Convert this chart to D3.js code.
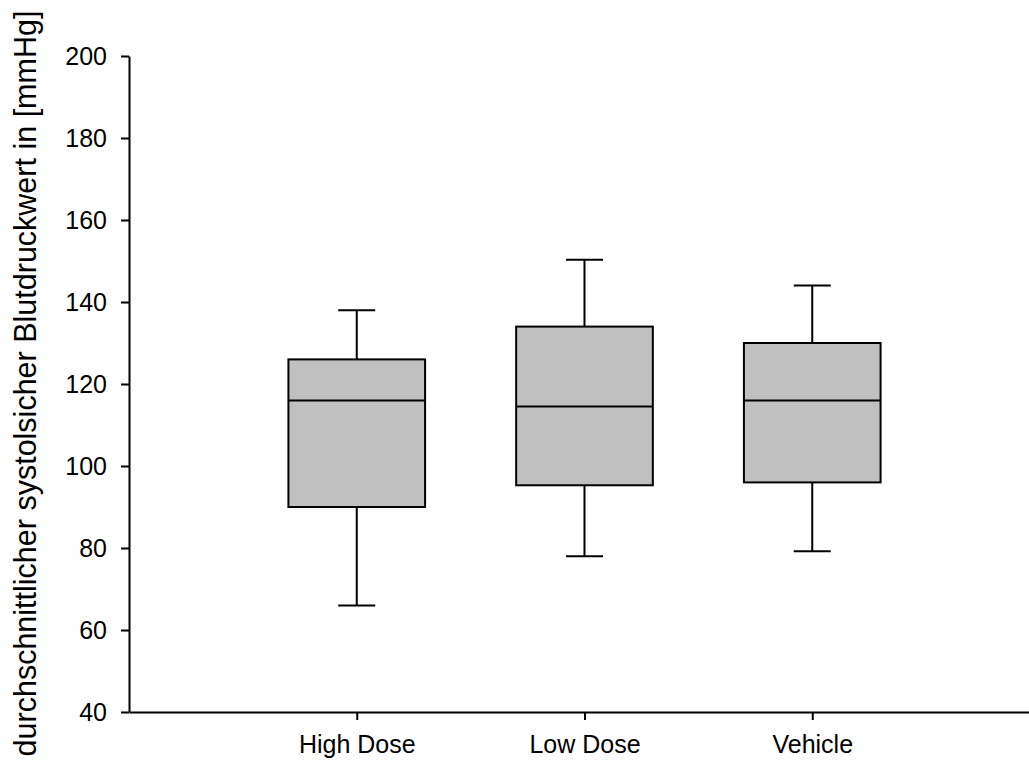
<!DOCTYPE html>
<html>
<head>
<meta charset="utf-8">
<script src="https://cdn.jsdelivr.net/npm/d3@7"></script>
<style>
  body { margin: 0; background: #fff; }
  svg text { font-family: "Liberation Sans", Arial, sans-serif; fill: #000; }
</style>
</head>
<body>
<svg id="chart" width="1029" height="764"></svg>
<script>
var groups = ["High Dose", "Low Dose", "Vehicle"];
var whiskerLow = [66, 78, 79.2];
var q1 = [90, 95.3, 96];
var median = [116, 114.5, 116];
var q3 = [126, 134, 130];
var whiskerHigh = [138, 150.3, 144];
var yTicks = [40, 60, 80, 100, 120, 140, 160, 180, 200];

var svg = d3.select("#chart");
var mLeft = 129, mRight = 1040, mTop = 56, mBottom = 712;

var x = d3.scalePoint().domain(groups).range([mLeft, mRight]).padding(1);
var y = d3.scaleLinear().domain([40, 200]).range([mBottom, mTop]);

var step = x.step();
var boxW = step * 0.6, capW = 37;

var data = groups.map(function(g, i) {
  return { g: g, lo: whiskerLow[i], q1: q1[i], med: median[i], q3: q3[i], hi: whiskerHigh[i] };
});

var box = svg.append("g").selectAll("g").data(data).enter().append("g")
  .attr("stroke", "#000").attr("stroke-width", 2);

// whiskers
box.append("line")
  .attr("x1", function(d) { return x(d.g); }).attr("x2", function(d) { return x(d.g); })
  .attr("y1", function(d) { return y(d.hi); }).attr("y2", function(d) { return y(d.q3); });
box.append("line")
  .attr("x1", function(d) { return x(d.g); }).attr("x2", function(d) { return x(d.g); })
  .attr("y1", function(d) { return y(d.q1); }).attr("y2", function(d) { return y(d.lo); });
box.append("line")
  .attr("x1", function(d) { return x(d.g) - capW / 2; }).attr("x2", function(d) { return x(d.g) + capW / 2; })
  .attr("y1", function(d) { return y(d.hi); }).attr("y2", function(d) { return y(d.hi); });
box.append("line")
  .attr("x1", function(d) { return x(d.g) - capW / 2; }).attr("x2", function(d) { return x(d.g) + capW / 2; })
  .attr("y1", function(d) { return y(d.lo); }).attr("y2", function(d) { return y(d.lo); });

box.append("rect")
  .attr("x", function(d) { return x(d.g) - boxW / 2; })
  .attr("width", boxW)
  .attr("y", function(d) { return y(d.q3); })
  .attr("height", function(d) { return y(d.q1) - y(d.q3); })
  .attr("fill", "#c0c0c0");

box.append("line")
  .attr("x1", function(d) { return x(d.g) - boxW / 2; }).attr("x2", function(d) { return x(d.g) + boxW / 2; })
  .attr("y1", function(d) { return y(d.med); }).attr("y2", function(d) { return y(d.med); });

// axes
var yAxis = svg.append("g")
  .attr("transform", "translate(" + mLeft + ",0)")
  .call(d3.axisLeft(y).tickValues(yTicks).tickSize(8).tickPadding(14).tickSizeOuter(0));
var xAxis = svg.append("g")
  .attr("transform", "translate(0," + mBottom + ")")
  .call(d3.axisBottom(x).tickSize(8).tickPadding(15).tickSizeOuter(0));

[yAxis, xAxis].forEach(function(a) {
  a.select(".domain").attr("stroke", "#000").attr("stroke-width", 2);
  a.selectAll(".tick line").attr("stroke", "#000").attr("stroke-width", 2);
  a.selectAll(".tick text").attr("font-size", 25).attr("font-family", "Liberation Sans, Arial, sans-serif");
});

svg.append("text")
  .attr("transform", "translate(36," + ((10 + 757) / 2) + ") rotate(-90)")
  .attr("text-anchor", "middle")
  .attr("font-size", 30.5)
  .text("durchschnittlicher systolsicher Blutdruckwert in [mmHg]");
</script>
</body>
</html>
